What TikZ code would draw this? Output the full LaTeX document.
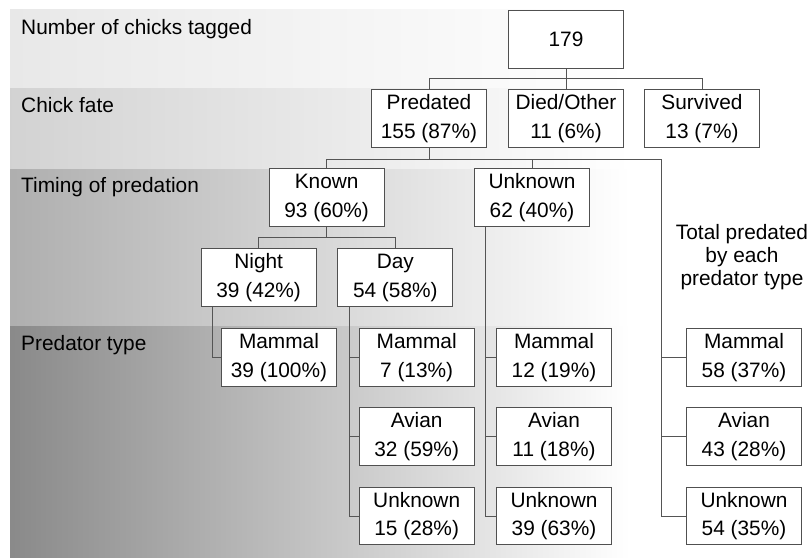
\documentclass[tikz,border=0pt]{standalone}
\usepackage{fontspec}
\setmainfont{Liberation Sans}
\usetikzlibrary{positioning}
\definecolor{boxline}{RGB}{80,80,80}
\definecolor{linkline}{RGB}{85,85,85}
\newcommand{\boxfont}{\fontsize{17.8}{24.5}\selectfont}
\newcommand{\totfont}{\fontsize{17.8}{19.8}\selectfont}

\begin{document}
\begin{tikzpicture}[
  box/.style={draw=boxline, fill=white, line width=0.8pt, minimum width=3.45cm,
    minimum height=1.73cm, inner sep=0pt, align=center, font=\boxfont},
  rowlabel/.style={anchor=base west, inner sep=0pt, font=\boxfont},
  link/.style={draw=linkline, line width=0.7pt},
  ]
  \useasboundingbox (0,0) rectangle (24.33,16.74);

  % Bandes de fond
  \shade[left color=gray!18, right color=white] (0.3,14.07) rectangle (18.9,16.44);
  \shade[left color=gray!35, right color=white] (0.3,11.66) rectangle (18.9,14.07);
  \shade[left color=gray!63, right color=white] (0.3,6.93) rectangle (18.9,11.66);
  \shade[left color=gray!92, right color=white] (0.3,0) rectangle (18.9,6.93);

  % Titres des niveaux
  \node[rowlabel] (lbltag)  at (0.63,15.705) {Number of chicks tagged};
  \node[rowlabel] (lblfate) at (0.63,13.37) {Chick fate};
  \node[rowlabel] (lbltime) at (0.63,10.96) {Timing of predation};
  \node[rowlabel] (lblpred) at (0.63,6.22) {Predator type};

  % Effectif et devenir
  \node[box] (tagged) at (16.98,15.56) {179};
  \node[box] (pred)   at (12.87,13.19) {Predated\\155 (87\%)};
  \node[box] (died)   at (16.98,13.19) {Died/Other\\11 (6\%)};
  \node[box] (surv)   at (21.06,13.19) {Survived\\13 (7\%)};
  % Moment de la prédation
  \node[box] (known)  at (9.80,10.81) {Known\\93 (60\%)};
  \node[box] (unk)    at (15.96,10.81) {Unknown\\62 (40\%)};
  \node[box] (night)  at (7.76,8.41) {Night\\39 (42\%)};
  \node[box] (day)    at (11.86,8.41) {Day\\54 (58\%)};
  % Prédateurs
  \node[box] (nmam)   at (8.37,6.02) {Mammal\\39 (100\%)};
  \node[box] (dmam)   at (12.50,6.02) {Mammal\\7 (13\%)};
  \node[box] (dav)    at (12.50,3.65) {Avian\\32 (59\%)};
  \node[box] (dunk)   at (12.50,1.26) {Unknown\\15 (28\%)};
  \node[box] (umam)   at (16.62,6.02) {Mammal\\12 (19\%)};
  \node[box] (uav)    at (16.62,3.65) {Avian\\11 (18\%)};
  \node[box] (uunk)   at (16.62,1.26) {Unknown\\39 (63\%)};
  % Totaux
  \node[font=\totfont, align=center, inner sep=0pt] (totlabel) at (22.26,9.03)
    {Total predated\\by each\\predator type};
  \node[box] (tmam)   at (22.32,6.02) {Mammal\\58 (37\%)};
  \node[box] (tav)    at (22.32,3.65) {Avian\\43 (28\%)};
  \node[box] (tunk)   at (22.32,1.26) {Unknown\\54 (35\%)};

  % Liens du haut
  \draw[link] (tagged.south) -- (died.north);
  \draw[link] (pred.north) -- ++(0,0.33) -| (surv.north);
  \coordinate (predbus) at (19.83,11.97);
  \draw[link] (pred.south) -- (pred.south |- predbus);
  \draw[link] (known.north) |- (predbus) |- (tunk.west);
  \draw[link] (unk.north) -- (unk.north |- predbus);
  \draw[link] (known.south) -- ++(0,-0.34);
  \draw[link] (night.north) -- ++(0,0.33) -| (day.north);

  % Branches vers les prédateurs
  \coordinate (nightleg) at ([xshift=0.36cm]night.south west);
  \coordinate (dayleg)   at ([xshift=0.36cm]day.south west);
  \coordinate (unkleg)   at ([xshift=0.34cm]unk.south west);
  \draw[link] (nightleg) |- (nmam.west);
  \draw[link] (dayleg) |- (dunk.west);
  \draw[link] (dayleg |- dmam.west) -- (dmam.west);
  \draw[link] (dayleg |- dav.west) -- (dav.west);
  \draw[link] (unkleg) |- (uunk.west);
  \draw[link] (unkleg |- umam.west) -- (umam.west);
  \draw[link] (unkleg |- uav.west) -- (uav.west);
  \draw[link] (predbus |- tmam.west) -- (tmam.west);
  \draw[link] (predbus |- tav.west) -- (tav.west);
\end{tikzpicture}
\end{document}
